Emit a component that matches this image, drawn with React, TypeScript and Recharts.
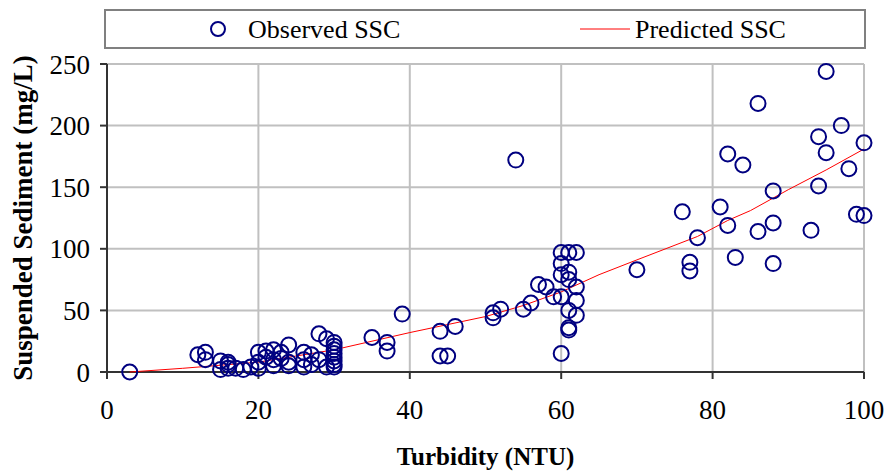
import React from 'react';
import { ScatterChart, Scatter, XAxis, YAxis, CartesianGrid, Legend } from 'recharts';

const serif = '"Liberation Serif", "Times New Roman", serif';

// observed samples: turbidity (NTU) and suspended sediment (mg/L)
const turbidity = [
  3, 12, 13, 13, 15, 15, 16, 16, 16, 17, 18, 19,
  20, 20, 20, 21, 21, 22, 22, 22, 23, 23, 24, 24, 24,
  26, 26, 26, 27, 27, 28, 28, 29, 29,
  30, 30, 30, 30, 30, 30, 30, 30,
  35, 37, 37, 39, 44, 44, 45, 46, 51, 51, 52, 54, 55, 56, 57, 58, 59,
  60, 60, 61, 62, 60, 61, 60, 61, 62, 62, 61, 62, 61, 61, 60,
  70, 76, 77, 77, 78, 81, 82, 82, 83, 84, 86, 86, 88, 88, 88,
  93, 94, 94, 95, 95, 97, 98, 99, 100, 100,
];
const observedSsc = [
  0, 14, 16, 10, 9, 2, 8, 3, 6, 3, 2, 4,
  16, 8, 3, 17, 12, 10, 5, 18, 11, 16, 8, 22, 5,
  16, 10, 4, 6, 14, 31, 10, 27, 4,
  24, 21, 18, 15, 12, 9, 6, 4,
  28, 24, 17, 47, 33, 13, 13, 37, 48, 44, 51, 172, 51, 56, 71, 69, 61,
  61, 97, 97, 97, 88, 81, 79, 75, 69, 58, 50, 46, 36, 34, 15,
  83, 130, 89, 82, 109, 134, 119, 177, 93, 168, 218, 114, 147, 121, 88,
  115, 191, 151, 244, 178, 200, 165, 128, 127, 186,
];

// regression prediction along the turbidity range
const predTurbidity = [3, 10, 20, 30, 40, 50, 55, 60, 65, 70, 78, 82, 85, 90, 95, 100];
const predictedSsc = [0, 3, 8, 18, 32, 45, 54, 65, 79, 91, 110, 123, 131, 148, 164, 181];

const xTicks = [0, 20, 40, 60, 80, 100];
const yTicks = [0, 50, 100, 150, 200, 250];

const observed = turbidity.map((x, i) => ({ x, y: observedSsc[i] }));
const predicted = predTurbidity.map((x, i) => ({ x, y: predictedSsc[i] }));

const Ring = (props: any) => (
  <circle cx={props.cx} cy={props.cy} r={7.5} fill="none" stroke="#000080" strokeWidth={2} />
);

const NoMark = () => <g />;

const LegendBox = () => (
  <div
    style={{
      position: 'relative',
      boxSizing: 'border-box',
      width: 762,
      height: 40,
      border: '2px solid #808080',
      background: '#fff',
    }}
  >
    <svg width={758} height={36} style={{ position: 'absolute', left: 0, top: 0 }}>
      <circle cx={112} cy={18} r={7} fill="none" stroke="#000080" strokeWidth={2} />
      <text x={142} y={18} dominantBaseline="central" fontFamily={serif} fontSize={26} fill="#000">
        Observed SSC
      </text>
      <line x1={474} x2={524} y1={18} y2={18} stroke="#ff0000" strokeWidth={1} />
      <text x={529} y={18} dominantBaseline="central" fontFamily={serif} fontSize={26} fill="#000">
        Predicted SSC
      </text>
    </svg>
  </div>
);

export default function App() {
  return (
    <div style={{ position: 'absolute', left: 0, top: 0, background: '#fff' }}>
      <ScatterChart width={886} height={475} margin={{ top: 64, right: 22, bottom: 0, left: 0 }}>
        <CartesianGrid stroke="#c0c0c0" strokeWidth={2} />
        <XAxis
          type="number"
          dataKey="x"
          domain={[0, 100]}
          ticks={xTicks}
          height={103}
          stroke="#333"
          strokeWidth={2}
          tickSize={7}
          tickMargin={21}
          tick={{ fill: '#000', fontSize: 27, fontFamily: serif }}
          label={{
            value: 'Turbidity (NTU)',
            position: 'insideBottom',
            offset: 10,
            style: { fontFamily: serif, fontSize: 25, fontWeight: 'bold', fill: '#000' },
          }}
        />
        <YAxis
          type="number"
          dataKey="y"
          domain={[0, 250]}
          ticks={yTicks}
          width={107}
          stroke="#333"
          strokeWidth={2}
          tickSize={7}
          tickMargin={10}
          tick={{ fill: '#000', fontSize: 27, fontFamily: serif }}
          label={{
            value: 'Suspended Sediment (mg/L)',
            angle: -90,
            position: 'insideLeft',
            offset: 22,
            style: { textAnchor: 'middle', fontFamily: serif, fontSize: 27, fontWeight: 'bold', fill: '#000' },
          }}
        />
        <Legend
          layout="horizontal"
          verticalAlign="middle"
          align="center"
          wrapperStyle={{ top: 9, left: 104, width: 762, height: 40 }}
          content={() => <LegendBox />}
        />
        <Scatter
          name="Predicted SSC"
          data={predicted}
          line={{ stroke: '#ff0000', strokeWidth: 1 }}
          lineType="joint"
          shape={NoMark}
          isAnimationActive={false}
        />
        <Scatter name="Observed SSC" data={observed} shape={Ring} isAnimationActive={false} />
      </ScatterChart>
    </div>
  );
}
